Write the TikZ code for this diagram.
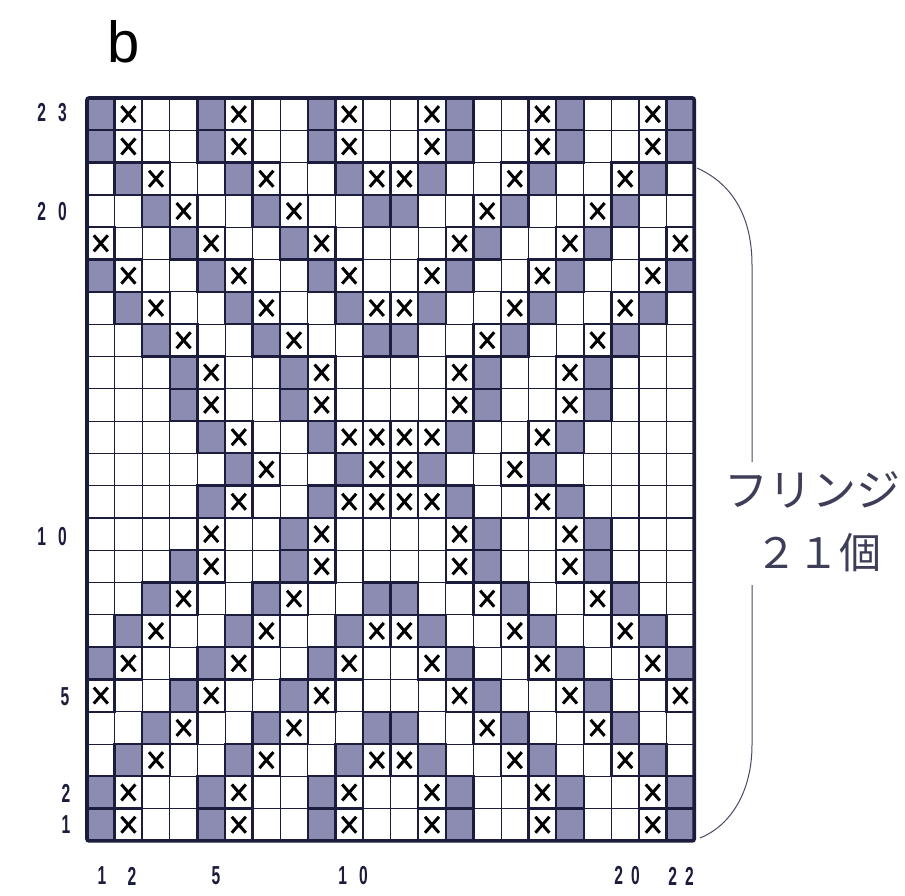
\documentclass[tikz,border=0pt]{standalone}
\usepackage{fontspec}
\setmainfont{Liberation Sans}
\newfontfamily\cjk{Noto Sans CJK JP}
\definecolor{ink}{RGB}{28,28,60}
\definecolor{gcell}{RGB}{140,140,178}
\newcommand\nd[1]{\scalebox{0.6}[1]{#1}}
\def\chart{%
23/{1,5,9,14,18,22}/{2,6,10,13,17,21},%
22/{1,5,9,14,18,22}/{2,6,10,13,17,21},%
21/{2,6,10,13,17,21}/{3,7,11,12,16,20},%
20/{3,7,11,12,16,20}/{4,8,15,19},%
19/{4,8,15,19}/{1,5,9,14,18,22},%
18/{1,5,9,14,18,22}/{2,6,10,13,17,21},%
17/{2,6,10,13,17,21}/{3,7,11,12,16,20},%
16/{3,7,11,12,16,20}/{4,8,15,19},%
15/{4,8,15,19}/{5,9,14,18},%
14/{4,8,15,19}/{5,9,14,18},%
13/{5,9,14,18}/{6,10,11,12,13,17},%
12/{6,10,13,17}/{7,11,12,16},%
11/{5,9,14,18}/{6,10,11,12,13,17},%
10/{8,15,19}/{5,9,14,18},%
9/{4,8,15,19}/{5,9,14,18},%
8/{3,7,11,12,16,20}/{4,8,15,19},%
7/{2,6,10,13,17,21}/{3,7,11,12,16,20},%
6/{1,5,9,14,18,22}/{2,6,10,13,17,21},%
5/{4,8,15,19}/{1,5,9,14,18,22},%
4/{3,7,11,12,16,20}/{4,8,15,19},%
3/{2,6,10,13,17,21}/{3,7,11,12,16,20},%
2/{1,5,9,14,18,22}/{2,6,10,13,17,21},%
1/{1,5,9,14,18,22}/{2,6,10,13,17,21}}
\begin{document}
\begin{tikzpicture}[x=1pt,y=-1pt,
  thingrid/.style={draw=ink, line width=1pt},
  cellbox/.style={draw=ink, line width=2.3pt},
  guideline/.style={draw=ink, line width=2.4pt},
  xmark/.style={draw=black, line width=3pt},
  lbl/.style={font=\fontsize{26}{26}\selectfont\bfseries, text=ink, inner sep=0pt},
  bracketline/.style={draw=ink!80, line width=1pt}]
\useasboundingbox (0,0) rectangle (905,896);
\fill[white] (0,0) rectangle (905,896);
\def\gx{87}\def\gy{98}\def\cw{27.6}\def\rh{32.3}
% shaded cells
\foreach \r/\gl/\xl in \chart {
  \foreach \c in \gl {
    \fill[fill=gcell] ({\gx+\cw*(\c-1)},{\gy+\rh*(23-\r)}) rectangle ++(\cw,\rh);
  }
}
% thin grid
\foreach \i in {1,...,21} {
  \draw[thingrid] ({\gx+\cw*\i},\gy) -- ++(0,{23*\rh});
}
\foreach \j in {1,...,22} {
  \draw[thingrid] (\gx,{\gy+\rh*\j}) -- ++({22*\cw},0);
}
% guide lines every 10 rows / columns
\draw[guideline] ({\gx+\cw*10},\gy) -- ++(0,{23*\rh});
\draw[guideline] ({\gx+\cw*20},\gy) -- ++(0,{23*\rh});
\draw[guideline] (\gx,{\gy+\rh*3}) -- ++({22*\cw},0);
\draw[guideline] (\gx,{\gy+\rh*13}) -- ++({22*\cw},0);
% outlines and crosses
\foreach \r/\gl/\xl in \chart {
  \foreach \c in \gl {
    \draw[cellbox] ({\gx+\cw*(\c-1)},{\gy+\rh*(23-\r)}) rectangle ++(\cw,\rh);
  }
  \foreach \c in \xl {
    \draw[cellbox] ({\gx+\cw*(\c-1)},{\gy+\rh*(23-\r)}) rectangle ++(\cw,\rh);
    \draw[xmark] ({\gx+\cw*(\c-0.5)-7},{\gy+\rh*(23.5-\r)-8}) -- ++(14,16)
                 ({\gx+\cw*(\c-0.5)-7},{\gy+\rh*(23.5-\r)+8}) -- ++(14,-16);
  }
}
% outer border
\draw[draw=ink, line width=3.6pt, rounded corners=2pt] (\gx,\gy) rectangle ++({22*\cw},{23*\rh});
% title
\node[inner sep=0pt] (title) at (124,42) {\fontsize{58}{58}\selectfont b};
% row labels
\node[lbl] (r23) at (52,113) {\nd{2}\hspace{12pt}\nd{3}};
\node[lbl] (r20) at (52,212) {\nd{2}\hspace{12pt}\nd{0}};
\node[lbl] (r10) at (52,537) {\nd{1}\hspace{12pt}\nd{0}};
\node[lbl] (r5) at (65,697) {\nd{5}};
\node[lbl] (r2) at (66,793) {\nd{2}};
\node[lbl] (r1) at (66,825) {\nd{1}};
% column labels
\node[lbl] (c1) at (102,876) {\nd{1}};
\node[lbl] (c2) at (132,876) {\nd{2}};
\node[lbl] (c5) at (216,876) {\nd{5}};
\node[lbl] (c10) at (353,876) {\nd{1}\hspace{12pt}\nd{0}};
\node[lbl] (c20) at (627,876) {\nd{2}\hspace{8pt}\nd{0}};
\node[lbl] (c22) at (681,876) {\nd{2}\hspace{8pt}\nd{2}};
% fringe bracket and text
\node[inner sep=0pt, text=ink!85] (fringe) at (812,490) {\cjk\fontsize{44}{44}\selectfont フリンジ};
\node[inner sep=0pt, text=ink!85] (count) at (818,553) {\cjk\fontsize{42}{42}\selectfont ２１個};
\coordinate (bt) at (697,168);
\coordinate (bm1) at (752,462);
\coordinate (bm2) at (752,585);
\coordinate (bb) at (700,838);
\draw[bracketline] (bt) .. controls (735,185) and (752,220) .. (752,265) -- (bm1);
\draw[bracketline] (bm2) -- (752,745) .. controls (752,790) and (732,825) .. (bb);
\end{tikzpicture}
\end{document}
